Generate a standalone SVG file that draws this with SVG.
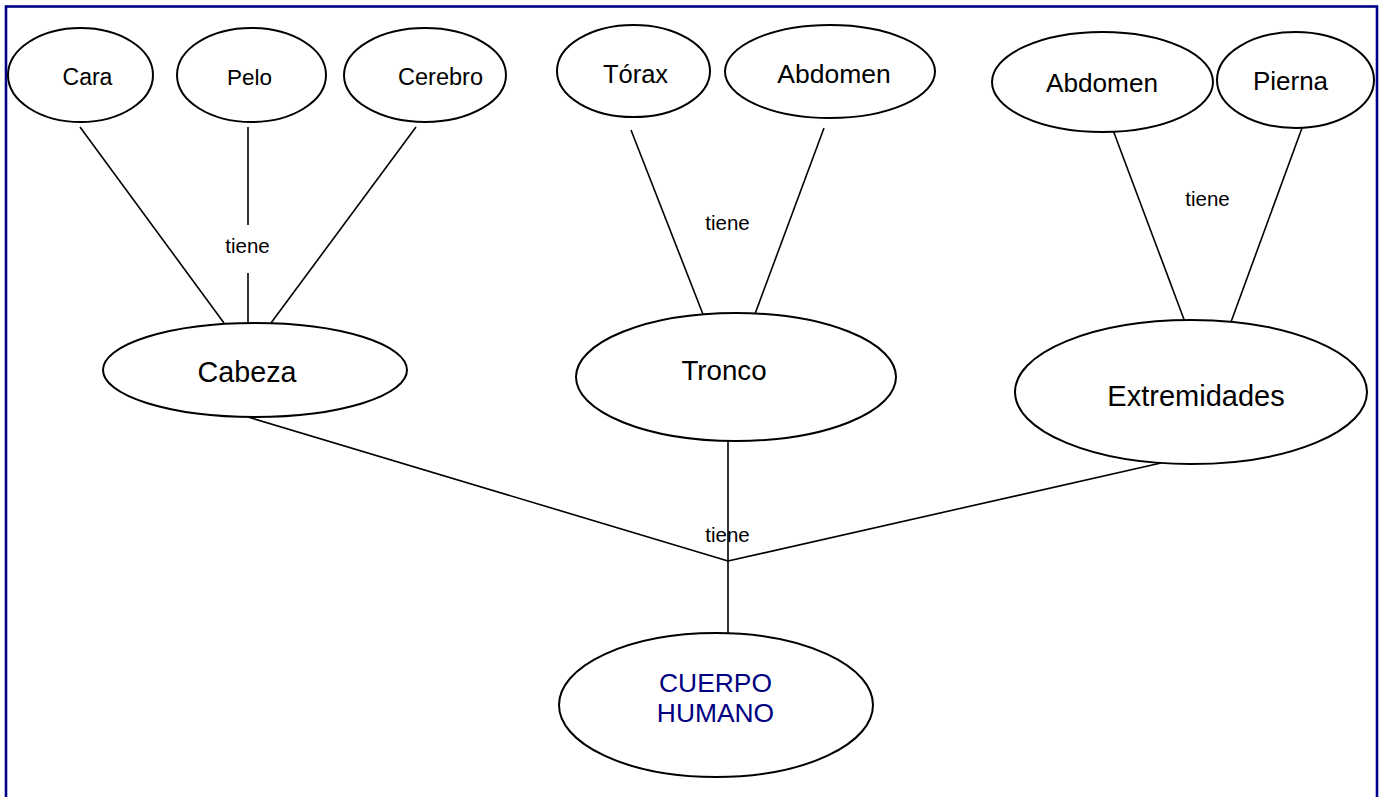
<svg xmlns="http://www.w3.org/2000/svg" width="1383" height="797" viewBox="0 0 1383 797">
<style>
.n ellipse{fill:#fff;stroke:#000;stroke-width:2}
text{font-family:"Liberation Sans",Arial,sans-serif;fill:#000;text-anchor:middle}
.c line{stroke:#000;stroke-width:1.6}
.lbl{font-size:20.5px}
.root{fill:#000080}
</style>
<rect x="0" y="0" width="1383" height="797" fill="#fff"/>
<rect x="6" y="6.5" width="1371" height="820" fill="none" stroke="#000088" stroke-width="2.6"/>
<g id="connectors" class="c">
<line x1="80" y1="127" x2="224" y2="323"/>
<line x1="248" y1="127" x2="248" y2="225"/>
<line x1="248" y1="273" x2="248" y2="323"/>
<line x1="416" y1="127" x2="271" y2="323"/>
<line x1="631" y1="130" x2="706" y2="322"/>
<line x1="824" y1="128" x2="752" y2="322"/>
<line x1="1113" y1="130" x2="1185" y2="322"/>
<line x1="1302" y1="128" x2="1231" y2="322"/>
<line x1="248" y1="417" x2="728" y2="561"/>
<line x1="1161" y1="463" x2="728" y2="561"/>
<line x1="728" y1="441" x2="728" y2="633"/>
<text class="lbl" x="247.5" y="253">tiene</text>
<text class="lbl" x="727.5" y="230">tiene</text>
<text class="lbl" x="1207.5" y="206">tiene</text>
<text class="lbl" x="727.5" y="542">tiene</text>
</g>
<g id="cara" class="n"><ellipse cx="80.5" cy="75" rx="72.5" ry="47"/><text x="87.5" y="85" font-size="23">Cara</text></g>
<g id="pelo" class="n"><ellipse cx="251.5" cy="75" rx="74.5" ry="47"/><text x="249.5" y="85" font-size="22.5">Pelo</text></g>
<g id="cerebro" class="n"><ellipse cx="425" cy="75" rx="81" ry="47"/><text x="440.5" y="85" font-size="23.5">Cerebro</text></g>
<g id="torax" class="n"><ellipse cx="633.5" cy="71" rx="76.5" ry="46"/><text x="635.5" y="83" font-size="25.5">Tórax</text></g>
<g id="abdomen1" class="n"><ellipse cx="830" cy="71.5" rx="105" ry="46.5"/><text x="834" y="83" font-size="26.5">Abdomen</text></g>
<g id="abdomen2" class="n"><ellipse cx="1102.5" cy="82" rx="110.5" ry="50"/><text x="1102" y="92" font-size="26.2">Abdomen</text></g>
<g id="pierna" class="n"><ellipse cx="1295.5" cy="80" rx="78.5" ry="48"/><text x="1290.5" y="90" font-size="26">Pierna</text></g>
<g id="cabeza" class="n"><ellipse cx="255" cy="370" rx="152" ry="47"/><text x="247" y="382" font-size="28.7">Cabeza</text></g>
<g id="tronco" class="n"><ellipse cx="736" cy="377" rx="160" ry="64"/><text x="724" y="380" font-size="27.7">Tronco</text></g>
<g id="extremidades" class="n"><ellipse cx="1191" cy="392" rx="176" ry="72"/><text x="1196" y="406" font-size="29">Extremidades</text></g>
<g id="cuerpo" class="n"><ellipse cx="716" cy="705" rx="157" ry="72"/><text class="root" x="715.5" y="692" font-size="26.4">CUERPO</text><text class="root" x="715.5" y="722" font-size="26.4">HUMANO</text></g>
</svg>
